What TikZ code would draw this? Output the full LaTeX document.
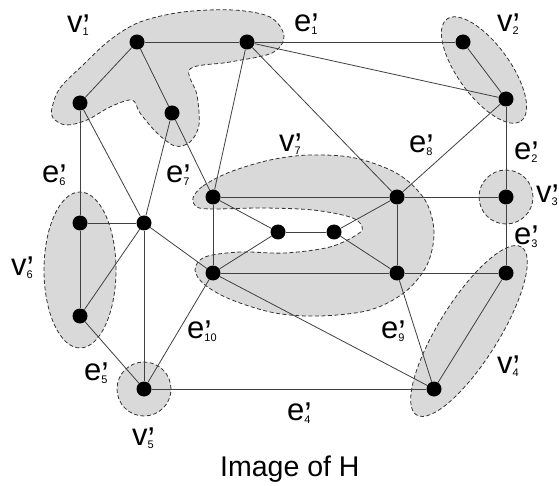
\documentclass[tikz,border=0pt]{standalone}
\usepackage{fontspec}
\setmainfont{Liberation Sans}
\usetikzlibrary{backgrounds}

\newcommand{\glab}[2]{#1\rlap{\raisebox{-5pt}{\fontsize{33}{33}\selectfont ’}}\raisebox{-3pt}{\fontsize{11}{11}\selectfont #2}}

\begin{document}
\begin{tikzpicture}[
    x=1pt, y=-1pt,
    vtx/.style={circle, fill=black, inner sep=0pt, minimum size=15pt},
    grp/.style={draw=black!80, fill=black!15, line width=0.8pt, dash pattern=on 4pt off 2.5pt},
    link/.style={draw=black!75, line width=0.8pt},
    lab/.style={anchor=base west, inner sep=0pt, font=\fontsize{31}{31}\selectfont}
]
\useasboundingbox (0,0) rectangle (559,486);

% vertices
\node[vtx] (v1a) at (137,42) {};
\node[vtx] (v1b) at (247,42) {};
\node[vtx] (v1c) at (80,103) {};
\node[vtx] (v1d) at (172,113) {};
\node[vtx] (v2a) at (463,42) {};
\node[vtx] (v2b) at (506,99) {};
\node[vtx] (v3) at (506,197) {};
\node[vtx] (v4a) at (506,273) {};
\node[vtx] (v4b) at (434,389) {};
\node[vtx] (v5) at (144,389) {};
\node[vtx] (v6a) at (80,223) {};
\node[vtx] (v6b) at (80,316) {};
\node[vtx] (v7a) at (213,197) {};
\node[vtx] (v7b) at (397,197) {};
\node[vtx] (v7c) at (213,273) {};
\node[vtx] (v7d) at (397,273) {};
\node[vtx] (x1) at (144,223) {};
\node[vtx] (x2) at (278,232) {};
\node[vtx] (x3) at (334,232) {};

\begin{scope}[on background layer]
% hyperedges
\draw[grp] plot[smooth cycle, tension=0.55] coordinates {(52,108) (60,88) (83,65) (110,40) (140,22) (183,12) (233,10) (270,17) (284,36) (272,53) (230,62) (190,69) (197,95) (199,125) (190,142) (175,146) (157,133) (140,113) (132,100) (110,107) (87,120) (66,125) (53,118)};
\draw[grp, rotate around={-54:(484,70)}] (484,70) ellipse [x radius=63pt, y radius=26pt];
\draw[grp] (v3) circle [radius=27pt];
\draw[grp, rotate around={58:(469,331)}] (469,331) ellipse [x radius=99pt, y radius=30pt];
\draw[grp] (v5) circle [radius=27pt];
\draw[grp] (80,270) ellipse [x radius=36pt, y radius=78pt];
\draw[grp] plot[smooth cycle, tension=0.55] coordinates {(193,198) (203,186) (230,172) (270,160) (310,155) (355,158) (398,174) (425,200) (434,232) (427,265) (405,292) (370,310) (320,316) (275,313) (232,300) (205,285) (195,270) (205,257) (240,252) (285,253) (330,247) (358,234) (362,226) (350,217) (313,210) (263,208) (213,209) (197,207)};
% edges
\foreach \a/\b in {v1a/v1b, v1b/v2a, v1a/v1c, v1a/v1d, v1b/v2b, v1b/v7a, v1b/v7b,
    v2a/v2b, v2b/v7b, v2b/v3, v3/v7b, v3/v4a, v4a/v7d, v4a/v4b, v4b/v7d, v4b/v7c,
    v4b/v5, v5/v6b, v5/x1, v5/v7c, v1c/v6a, v1c/x1, v1d/x1, v1d/v7a, v6a/x1,
    v6a/v6b, v6b/x1, x1/v7c, v7a/v7b, v7a/v7c, v7a/x2, x2/x3, x3/v7b, x3/v7d,
    v7c/x2, v7c/v7d, v7b/v7d}
    \draw[link] (\a) -- (\b);
\end{scope}

% labels
\node[lab] (l-v1) at (67,33) {\glab{v}{1}};
\node[lab] (l-e1) at (294,32) {\glab{e}{1}};
\node[lab] (l-v2) at (497,32) {\glab{v}{2}};
\node[lab] (l-e2) at (514,160) {\glab{e}{2}};
\node[lab] (l-v3) at (536,203) {\glab{v}{3}};
\node[lab] (l-e3) at (514,244) {\glab{e}{3}};
\node[lab] (l-v4) at (497,373) {\glab{v}{4}};
\node[lab] (l-e4) at (287,420) {\glab{e}{4}};
\node[lab] (l-v5) at (132,445) {\glab{v}{5}};
\node[lab] (l-e5) at (84,380) {\glab{e}{5}};
\node[lab] (l-v6) at (11,275) {\glab{v}{6}};
\node[lab] (l-e6) at (42,183) {\glab{e}{6}};
\node[lab] (l-v7) at (279,152) {\glab{v}{7}};
\node[lab] (l-e7) at (166,183) {\glab{e}{7}};
\node[lab] (l-e8) at (409,153) {\glab{e}{8}};
\node[lab] (l-e9) at (381,338) {\glab{e}{9}};
\node[lab] (l-e10) at (187,338) {\glab{e}{10}};
\node[lab, font=\fontsize{28.5}{28.5}\selectfont] (title) at (220,476) {Image of H};
\end{tikzpicture}
\end{document}
